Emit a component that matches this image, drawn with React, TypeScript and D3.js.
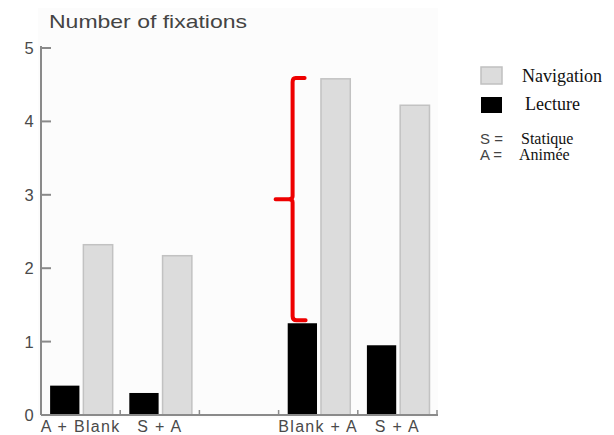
import React from "react";
import * as d3 from "d3";

const categories = ["A + Blank", "S + A", "", "Blank + A", "S + A"];
const lecture = [0.4, 0.3, null, 1.25, 0.95];
const navigation = [2.32, 2.17, null, 4.58, 4.22];
const yTicks = [0, 1, 2, 3, 4, 5];
const legendItems = ["Navigation", "Lecture"];
const noteKeys = ["S =", "A ="];
const noteVals = ["Statique", "Animée"];
const braceRange = [1.29, 4.59];

export default function App() {
  const W = 614, H = 435;
  const x = d3.scaleBand<number>().domain(d3.range(categories.length)).range([41, 437]).padding(0);
  const y = d3.scaleLinear().domain([0, 5]).range([415, 48]);
  const bw = x.bandwidth();
  const sans = "'Liberation Sans', Arial, sans-serif";
  const serif = "'Liberation Serif', 'Times New Roman', serif";
  const axisColor = "#8a8a8a";

  const bTop = y(braceRange[1]);
  const bBot = y(braceRange[0]);
  const bMid = (bTop + bBot) / 2;
  const bx = (x(3) as number) + 14;

  return (
    <svg width={W} height={H} style={{ position: "absolute", left: 0, top: 0, background: "#fff" }} fontFamily={sans}>
      <rect x={38} y={8} width={400} height={410} fill="#fcfcfc" />
      <text x={49} y={28} fontSize={19} fill="#444" textLength={198} lengthAdjust="spacingAndGlyphs">Number of fixations</text>
      {/* bars */}
      {categories.map((c, i) => {
        const x0 = x(i) as number;
        const l = lecture[i];
        const n = navigation[i];
        return (
          <g key={i}>
            {l != null && (
              <rect x={x0 + bw * 0.115} y={y(l)} width={bw * 0.37} height={y(0) - y(l)} fill="#000" />
            )}
            {n != null && (
              <rect x={x0 + bw * 0.535} y={y(n)} width={bw * 0.37} height={y(0) - y(n)} fill="#dcdcdc" stroke="#c2c2c2" strokeWidth={1.5} />
            )}
          </g>
        );
      })}
      {/* y axis */}
      <line x1={41} x2={41} y1={y(5) - 2} y2={y(0)} stroke={axisColor} strokeWidth={2} />
      {yTicks.map((t) => (
        <g key={t}>
          <line x1={41} x2={51} y1={y(t)} y2={y(t)} stroke={axisColor} strokeWidth={2} />
          <text x={29} y={y(t) + 6} fontSize={16.5} textAnchor="middle" fill="#4a4a4a">{t}</text>
        </g>
      ))}
      {/* x axis */}
      <line x1={41} x2={438} y1={y(0)} y2={y(0)} stroke={axisColor} strokeWidth={2} />
      {categories.map((c, i) => (
        <g key={i}>
          <line x1={(x(i) as number) + bw} x2={(x(i) as number) + bw} y1={y(0)} y2={y(0) - 5} stroke={axisColor} strokeWidth={1.5} />
          {c && (
            <text x={(x(i) as number) + bw / 2} y={432} fontSize={16} letterSpacing={1.3} textAnchor="middle" fill="#4a4a4a">{c}</text>
          )}
        </g>
      ))}
      {/* red brace */}
      <path
        d={`M${bx + 12},${bTop} L${bx + 3},${bTop} Q${bx},${bTop} ${bx},${bTop + 4} L${bx},${bMid - 3} Q${bx},${bMid} ${bx - 4},${bMid} L${bx - 17},${bMid} M${bx - 4},${bMid} Q${bx},${bMid} ${bx},${bMid + 3} L${bx},${bBot - 4} Q${bx},${bBot} ${bx + 4},${bBot} L${bx + 13},${bBot}`}
        fill="none"
        stroke="#ee0000"
        strokeWidth={4}
        strokeLinecap="round"
      />
      {/* legend */}
      <rect x={481} y={67} width={21} height={17} fill="#dcdcdc" stroke="#c0c0c0" strokeWidth={1.5} />
      <rect x={481} y={97} width={21} height={16} fill="#000" />
      <text x={522} y={82} fontSize={18} fontFamily={serif} fill="#111">{legendItems[0]}</text>
      <text x={525} y={110} fontSize={18} fontFamily={serif} fill="#111">{legendItems[1]}</text>
      {noteKeys.map((k, i) => (
        <g key={k}>
          <text x={480} y={144 + i * 16} fontSize={15} fill="#444">{k}</text>
          <text x={i === 0 ? 521 : 519} y={144 + i * 16} fontSize={16} fontFamily={serif} fill="#111">{noteVals[i]}</text>
        </g>
      ))}
    </svg>
  );
}
